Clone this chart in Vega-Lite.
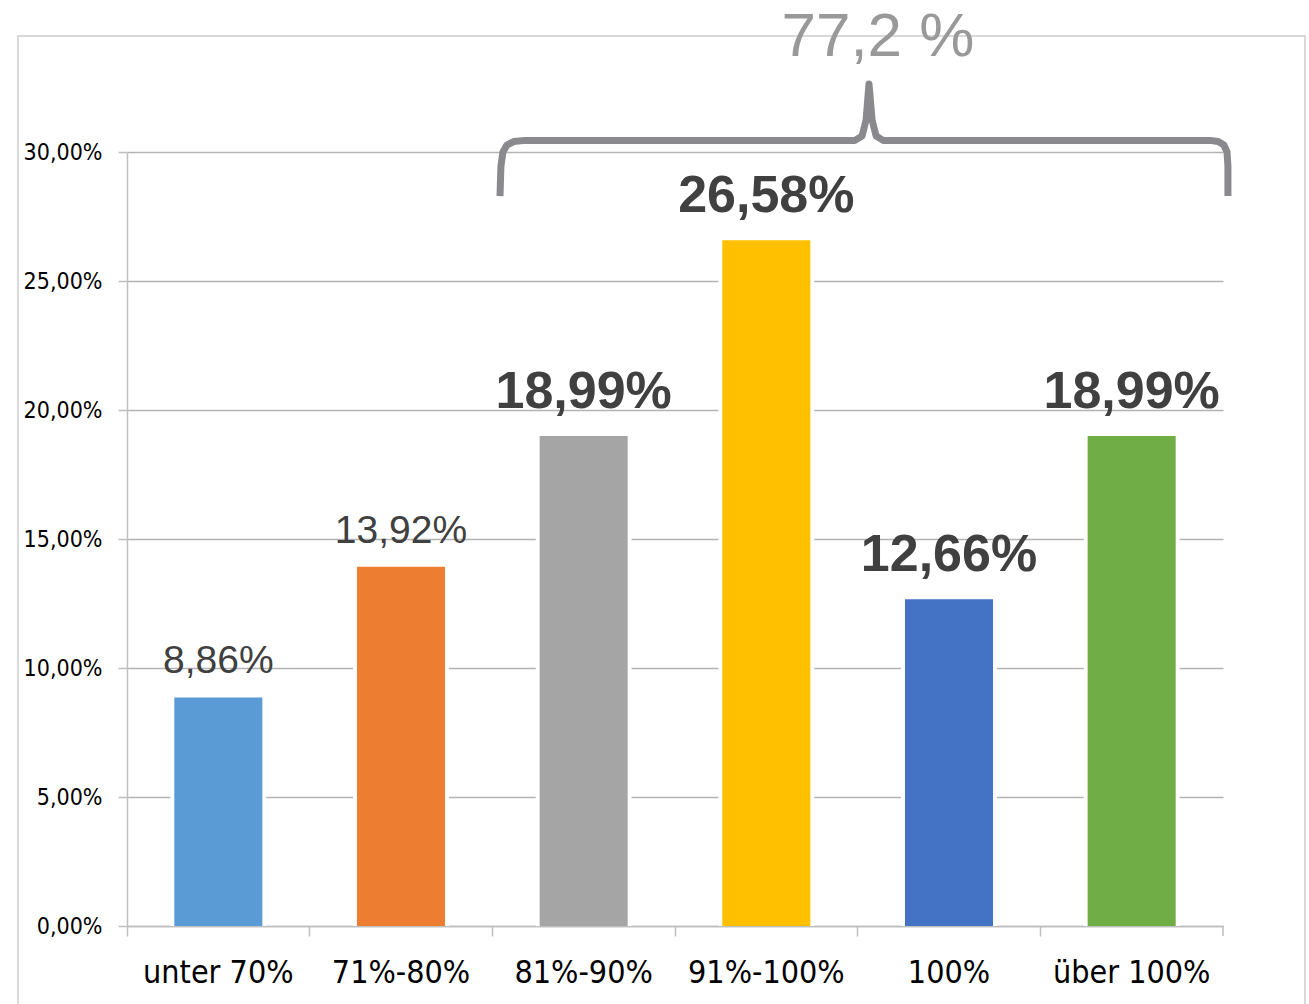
{
  "$schema": "https://vega.github.io/schema/vega-lite/v6.json",
  "width": 1096,
  "height": 774,
  "autosize": {"type": "none"},
  "padding": {"left": 127, "top": 152, "right": 86, "bottom": 78},
  "background": "white",
  "config": {
    "view": {"stroke": null},
    "locale": {"number": {"decimal": ",", "thousands": ".", "grouping": [3], "currency": ["", " €"]}}
  },
  "datasets": {
    "bars": [
      {"Kategorie": "unter 70%", "Anteil": 0.0886},
      {"Kategorie": "71%-80%", "Anteil": 0.1392},
      {"Kategorie": "81%-90%", "Anteil": 0.1899},
      {"Kategorie": "91%-100%", "Anteil": 0.2658},
      {"Kategorie": "100%", "Anteil": 0.1266},
      {"Kategorie": "über 100%", "Anteil": 0.1899}
    ],
    "brace": [
      {"o": 0, "bx": 2.042, "by": 0.2829},
      {"o": 1, "bx": 2.047, "by": 0.2945},
      {"o": 2, "bx": 2.058, "by": 0.300},
      {"o": 3, "bx": 2.080, "by": 0.3027},
      {"o": 4, "bx": 2.119, "by": 0.3041},
      {"o": 5, "bx": 2.179, "by": 0.3045},
      {"o": 6, "bx": 3.985, "by": 0.3045},
      {"o": 7, "bx": 4.024, "by": 0.3062},
      {"o": 8, "bx": 4.046, "by": 0.3124},
      {"o": 9, "bx": 4.062, "by": 0.3264},
      {"o": 10, "bx": 4.079, "by": 0.3124},
      {"o": 11, "bx": 4.101, "by": 0.3062},
      {"o": 12, "bx": 4.139, "by": 0.3045},
      {"o": 13, "bx": 5.929, "by": 0.3045},
      {"o": 14, "bx": 5.973, "by": 0.3041},
      {"o": 15, "bx": 6.005, "by": 0.3027},
      {"o": 16, "bx": 6.022, "by": 0.300},
      {"o": 17, "bx": 6.027, "by": 0.2945},
      {"o": 18, "bx": 6.027, "by": 0.2829}
    ]
  },
  "layer": [
    {
      "data": {"name": "bars"},
      "encoding": {
        "x": {
          "field": "Kategorie", "type": "nominal", "sort": null,
          "scale": {"paddingInner": 0, "paddingOuter": 0},
          "axis": {
            "title": null, "labelAngle": 0, "bandPosition": 0,
            "domainColor": "#bfbfbf", "domainWidth": 1.5,
            "tickColor": "#bfbfbf", "tickWidth": 1.5, "tickSize": 10,
            "labelFont": "DejaVu Sans Condensed", "labelFontSize": 32, "labelColor": "#000000",
            "labelPadding": 21, "labelAlign": "center", "labelOffset": 0,
            "grid": false
          }
        },
        "y": {
          "field": "Anteil", "type": "quantitative",
          "scale": {"domain": [0, 0.3], "nice": false},
          "axis": {
            "title": null, "values": [0, 0.05, 0.1, 0.15, 0.2, 0.25, 0.3], "format": ".2%",
            "grid": true, "gridColor": "#b3b3b3", "gridWidth": 1.5,
            "domainColor": "#bfbfbf", "domainWidth": 1.5,
            "tickColor": "#bfbfbf", "tickWidth": 1.5, "tickSize": 9,
            "labelFont": "DejaVu Sans Condensed", "labelFontSize": 23, "labelColor": "#000000",
            "labelPadding": 16
          }
        }
      },
      "layer": [
        {"mark": {"type": "bar", "color": "white", "width": {"band": 0.525}}},
        {
          "mark": {"type": "bar", "width": {"band": 0.482}},
          "encoding": {
            "color": {
              "field": "Kategorie", "type": "nominal", "sort": null, "legend": null,
              "scale": {"range": ["#5B9BD5", "#ED7D31", "#A5A5A5", "#FFC000", "#4472C4", "#70AD47"]}
            }
          }
        },
        {
          "transform": [{"filter": {"field": "Kategorie", "oneOf": ["unter 70%", "71%-80%"]}}],
          "mark": {"type": "text", "baseline": "alphabetic", "dy": -24, "font": "Liberation Sans", "fontSize": 39, "color": "#404040"},
          "encoding": {"text": {"field": "Anteil", "type": "quantitative", "format": ".2%"}}
        },
        {
          "transform": [{"filter": {"field": "Kategorie", "oneOf": ["81%-90%", "91%-100%", "100%", "über 100%"]}}],
          "mark": {"type": "text", "baseline": "alphabetic", "dy": -28, "font": "Liberation Sans", "fontWeight": "bold", "fontSize": 52, "color": "#404040"},
          "encoding": {"text": {"field": "Anteil", "type": "quantitative", "format": ".2%"}}
        }
      ]
    },
    {
      "layer": [
        {
          "data": {"values": [{}]},
          "mark": {"type": "rect", "fillOpacity": 0, "stroke": "#d9d9d9", "strokeWidth": 2},
          "encoding": {
            "x": {"datum": -0.597, "type": "quantitative", "scale": {"domain": [0, 6], "nice": false, "zero": false}, "axis": null},
            "x2": {"datum": 6.449},
            "y": {"datum": 0.345, "type": "quantitative", "scale": {"domain": [0, 0.3], "nice": false}, "axis": null},
            "y2": {"datum": -0.0326}
          }
        },
        {
          "data": {"values": [{}]},
          "mark": {"type": "rule", "color": "#bfbfbf", "strokeWidth": 1.5},
          "encoding": {
            "x": {"datum": 6, "type": "quantitative", "scale": {"domain": [0, 6], "nice": false, "zero": false}, "axis": null},
            "y": {"datum": 0, "type": "quantitative", "scale": {"domain": [0, 0.3], "nice": false}, "axis": null},
            "y2": {"datum": -0.0039}
          }
        },
        {
          "data": {"name": "brace"},
          "mark": {"type": "line", "color": "#8a8a8e", "strokeWidth": 7, "strokeJoin": "round", "strokeCap": "butt"},
          "encoding": {
            "x": {"field": "bx", "type": "quantitative", "scale": {"domain": [0, 6], "nice": false, "zero": false}, "axis": null},
            "y": {"field": "by", "type": "quantitative", "scale": {"domain": [0, 0.3], "nice": false}, "axis": null},
            "order": {"field": "o", "type": "quantitative"}
          }
        },
        {
          "data": {"values": [{"t": "77,2 %"}]},
          "mark": {"type": "text", "baseline": "alphabetic", "align": "center", "font": "Liberation Sans", "fontSize": 62, "color": "#999999"},
          "encoding": {
            "x": {"datum": 4.111, "type": "quantitative", "scale": {"domain": [0, 6], "nice": false, "zero": false}, "axis": null},
            "y": {"datum": 0.3372, "type": "quantitative", "scale": {"domain": [0, 0.3], "nice": false}, "axis": null},
            "text": {"field": "t"}
          }
        }
      ]
    }
  ],
  "resolve": {"scale": {"x": "independent"}, "axis": {"x": "independent", "y": "independent"}}
}
